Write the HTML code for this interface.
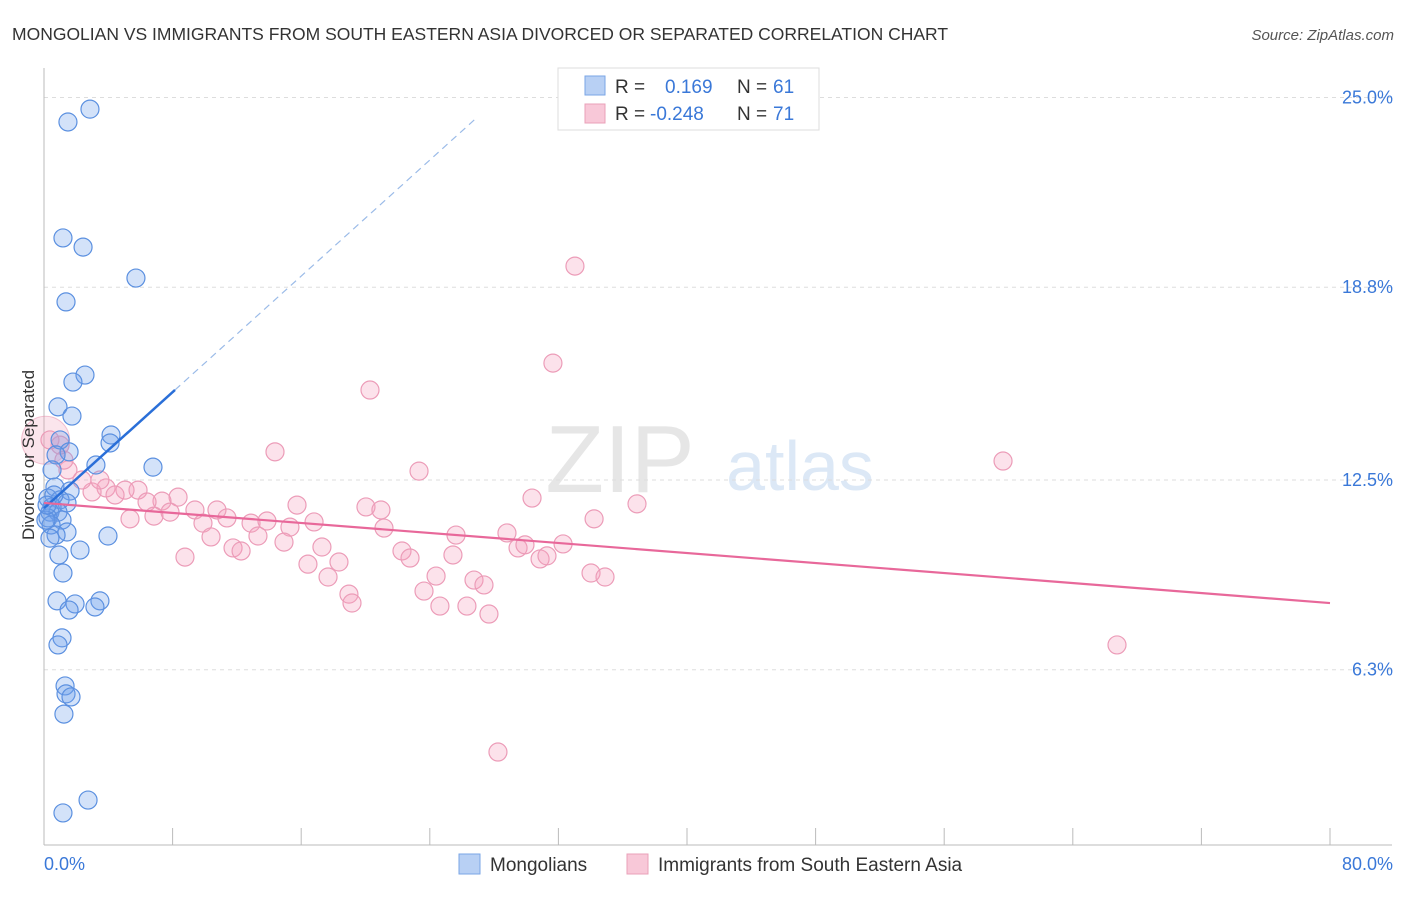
<!DOCTYPE html>
<html><head><meta charset="utf-8"><style>
body{margin:0;background:#fff;font-family:"Liberation Sans",sans-serif;}
svg text{font-family:"Liberation Sans",sans-serif;}
</style></head><body>
<svg id="c" width="1406" height="892" xmlns="http://www.w3.org/2000/svg">
<text x="12" y="40" font-size="17.5" fill="#333">MONGOLIAN VS IMMIGRANTS FROM SOUTH EASTERN ASIA DIVORCED OR SEPARATED CORRELATION CHART</text>
<text x="1394" y="40" font-size="15" fill="#555" font-style="italic" text-anchor="end">Source: ZipAtlas.com</text>
<text x="620" y="492" font-size="96" fill="#e6e6e6" font-family="Liberation Serif" text-anchor="middle">ZIP</text>
<text x="800" y="490" font-size="70" fill="#dce8f6" text-anchor="middle">atlas</text>
<g id="grid"></g>
<g id="axes"></g>
<g id="pts"></g>
<g id="trend"></g>
<text transform="translate(34,455) rotate(-90)" font-size="17" fill="#333" text-anchor="middle">Divorced or Separated</text>
<g>
<rect x="558" y="68" width="261" height="62" fill="#fff" stroke="#ddd"/>
<rect x="585" y="76" width="20" height="19" fill="#b8d0f4" stroke="#7aa6e6"/>
<rect x="585" y="104" width="20" height="19" fill="#f8c8d8" stroke="#eaa0b8"/>
<text x="615" y="93" font-size="19" fill="#333">R = </text><text x="665" y="93" font-size="19" fill="#3a78d8">0.169</text>
<text x="737" y="93" font-size="19" fill="#333">N = </text><text x="773" y="93" font-size="19" fill="#3a78d8">61</text>
<text x="615" y="120" font-size="19" fill="#333">R = </text><text x="650" y="120" font-size="19" fill="#3a78d8">-0.248</text>
<text x="737" y="120" font-size="19" fill="#333">N = </text><text x="773" y="120" font-size="19" fill="#3a78d8">71</text>
</g>
<g>
<rect x="459" y="854" width="21" height="20" fill="#b8d0f4" stroke="#7aa6e6"/>
<text x="490" y="871" font-size="19" fill="#333">Mongolians</text>
<rect x="627" y="854" width="21" height="20" fill="#f8c8d8" stroke="#eaa0b8"/>
<text x="658" y="871" font-size="19" fill="#333">Immigrants from South Eastern Asia</text>
</g>
</svg>
<script>
const blueX=[2.86,1.49,1.18,2.43,5.72,1.37,2.55,1.80,0.87,1.74,4.17,4.11,1.00,1.56,0.75,3.23,6.78,0.50,0.68,1.62,0.25,1.00,1.43,0.50,0.37,0.87,0.25,1.12,0.44,1.43,0.75,3.98,0.37,2.24,0.93,1.18,0.81,1.93,3.48,3.17,1.56,1.12,0.87,1.31,1.37,1.68,1.24,2.74,1.18,0.12,0.62,0.19];
const blueY=[24.62,24.20,20.41,20.11,19.10,18.32,15.93,15.70,14.89,14.59,13.97,13.71,13.81,13.42,13.32,12.99,12.92,12.83,12.27,12.14,11.91,11.85,11.75,11.62,11.45,11.45,11.26,11.19,11.03,10.80,10.70,10.67,10.60,10.21,10.05,9.46,8.55,8.45,8.55,8.35,8.25,7.34,7.11,5.77,5.51,5.41,4.85,2.04,1.62,11.19,12.01,11.68];
const pinkX=[33.03,31.66,20.28,59.66,14.37,23.33,30.36,36.89,34.22,15.74,20.03,20.96,8.34,7.34,5.85,6.41,3.86,5.04,4.42,2.99,3.48,2.36,1.49,1.24,1.00,0.37,9.39,10.76,11.38,9.89,5.35,6.84,7.84,10.39,11.76,12.26,12.88,13.87,15.30,16.80,13.31,14.93,17.29,8.77,16.42,18.35,17.67,18.97,19.16,21.15,22.27,22.77,25.63,25.44,24.39,23.64,24.63,26.31,26.75,27.37,27.68,28.80,29.49,29.92,30.86,31.29,32.29,34.03,34.90,66.75,28.24];
const pinkY=[19.49,16.32,15.44,13.12,13.42,12.79,11.91,11.72,11.23,11.68,11.62,11.52,11.94,11.81,12.17,11.78,12.24,12.17,12.01,12.11,12.50,12.50,12.83,13.15,13.64,13.81,11.52,11.52,11.26,11.09,11.23,11.32,11.45,10.64,10.28,10.18,11.09,11.16,10.96,11.13,10.67,10.47,10.31,9.98,9.75,9.82,9.33,8.77,8.48,10.93,10.18,9.95,10.70,10.05,9.36,8.87,8.38,8.38,9.23,9.07,8.12,10.77,10.28,10.38,9.92,10.02,10.41,9.46,9.33,7.11,3.61];
const yTicks=[25.0,18.8,12.5,6.3];
const yTickLabels=["25.0%","18.8%","12.5%","6.3%"];
const xTickLabels=["0.0%","80.0%"];
const blueTrend=[11.58,0.474];
const pinkTrend=[11.75,-0.0409];
const NS="http://www.w3.org/2000/svg";
const X=v=>44+v/80*1286;
const Y=v=>480-(v-12.5)*30.6;
function mk(t,a,p){const e=document.createElementNS(NS,t);for(const k in a)e.setAttribute(k,a[k]);p.appendChild(e);return e;}
const grid=document.getElementById('grid'),axes=document.getElementById('axes'),pts=document.getElementById('pts'),tr=document.getElementById('trend');
yTicks.forEach((v,i)=>{
 const l=mk('line',{x1:44,x2:1392,y1:Y(v),y2:Y(v),stroke:'#ddd','stroke-dasharray':'4,4'},grid);
 
 
 const t=mk('text',{x:1393,y:Y(v)+6,'font-size':18,fill:'#3a78d8','text-anchor':'end'},grid);
 t.textContent=yTickLabels[i];
 
 
});
const ya=mk('line',{x1:44,x2:44,y1:68,y2:845,stroke:'#bbb'},axes);


const xa=mk('line',{x1:44,x2:1392,y1:845,y2:845,stroke:'#bbb'},axes);


for(let i=0;i<=10;i++){
 const tk=mk('line',{x1:X(i*8),x2:X(i*8),y1:828,y2:845,stroke:'#bbb'},axes);
 
 
}
const xl0=mk('text',{x:44,y:870,'font-size':18,fill:'#3a78d8'},axes);
xl0.textContent=xTickLabels[0];


const xl1=mk('text',{x:1393,y:870,'font-size':18,fill:'#3a78d8','text-anchor':'end'},axes);
xl1.textContent=xTickLabels[1];


const big=mk('circle',{cx:X(0.1),cy:Y(13.8),r:24,fill:'rgba(240,150,180,0.25)',stroke:'rgba(232,140,170,0.5)'},pts);


pinkX.forEach((v,i)=>{
 const c=mk('circle',{cx:X(v),cy:Y(pinkY[i]),r:9,fill:'rgba(244,160,190,0.3)',stroke:'#ec9cb8','stroke-width':1.2},pts);
 
 
});
blueX.forEach((v,i)=>{
 const c=mk('circle',{cx:X(v),cy:Y(blueY[i]),r:9,fill:'rgba(110,160,235,0.3)',stroke:'#5b90e0','stroke-width':1.2},pts);
 
 
});
const bx1=8.15,bx2=26.8;
const bl=mk('line',{x1:X(0),y1:Y(blueTrend[0]),x2:X(bx1),y2:Y(blueTrend[0]+blueTrend[1]*bx1),stroke:'#2a6fd8','stroke-width':2.5},tr);


const bd=mk('line',{x1:X(bx1),y1:Y(blueTrend[0]+blueTrend[1]*bx1),x2:X(bx2),y2:Y(blueTrend[0]+blueTrend[1]*bx2),stroke:'#9bbbe8','stroke-width':1.2,'stroke-dasharray':'7,5'},tr);


const pl=mk('line',{x1:X(0),y1:Y(pinkTrend[0]),x2:X(80),y2:Y(pinkTrend[0]+pinkTrend[1]*80),stroke:'#e8689a','stroke-width':2.2},tr);


</script>
</body></html>
